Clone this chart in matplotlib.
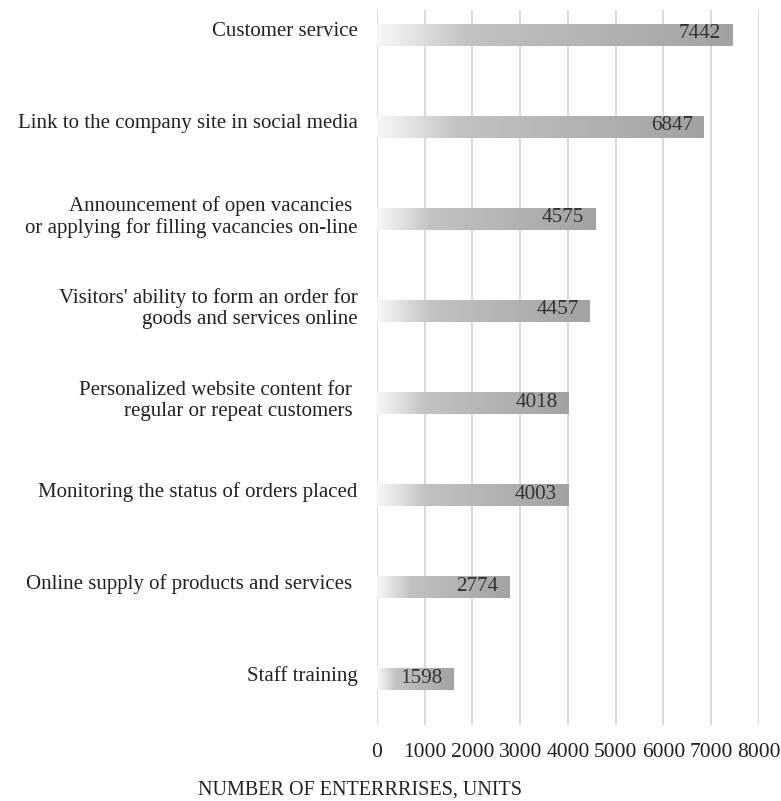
import numpy as np
import matplotlib
matplotlib.use('Agg')
import matplotlib.pyplot as plt
import matplotlib.transforms as mtransforms
from matplotlib.colors import LinearSegmentedColormap

plt.rcParams['font.family'] = ['Liberation Serif', 'DejaVu Serif']

# data (bottom to top)
categories = [
    'Staff training',
    'Online supply of products and services ',
    'Monitoring the status of orders placed',
    'Personalized website content for \nregular or repeat customers ',
    "Visitors' ability to form an order for\ngoods and services online",
    'Announcement of open vacancies \nor applying for filling vacancies on-line',
    'Link to the company site in social media',
    'Customer service',
]
values = [1598, 2774, 4003, 4018, 4457, 4575, 6847, 7442]
x_ticks = [0, 1000, 2000, 3000, 4000, 5000, 6000, 7000, 8000]

fig = plt.figure(figsize=(7.81, 8.01), dpi=100)
ax = fig.add_axes([0.4827, 0.0949, 0.4891, 0.8926])

y = np.arange(len(categories))
bar_h = 0.24
bars = ax.barh(y, values, height=bar_h, color='none', zorder=3)

# gradient fill: white on the left, gray towards the end
cmap = LinearSegmentedColormap.from_list(
    'fade', [(0.0, '#f7f7f7'), (0.1, '#e4e4e4'), (0.25, '#c2c2c2'),
             (0.6, '#b4b4b4'), (1.0, '#a2a2a2')])
grad = np.linspace(0, 1, 256).reshape(1, -1)
for rect, v, yi in zip(bars, values, y):
    im = ax.imshow(grad, cmap=cmap, aspect='auto', interpolation='bilinear',
                   extent=(0, v, yi - bar_h / 2, yi + bar_h / 2), zorder=3)
    im.set_clip_path(rect)
    ax.text(v - 230, yi + 0.01, str(v), ha='right', va='center',
            fontsize=15.2, color='#333333', zorder=4)

ax.set_xlim(0, 8000)
ax.set_ylim(-0.5, len(categories) - 1 + 0.27)
ax.set_xticks(x_ticks)
ax.set_xticklabels([str(t) for t in x_ticks], fontsize=15.5, color='#222222')
ax.set_yticks(y)
ax.set_yticklabels(categories, fontsize=15, color='#222222', ha='right')
ax.tick_params(axis='both', length=0)
ax.tick_params(axis='x', pad=13)
ax.tick_params(axis='y', pad=14)

# labels sit a little above the bar centre
offset = mtransforms.ScaledTranslation(0, 4 / 72, fig.dpi_scale_trans)
for lab in ax.get_yticklabels():
    lab.set_transform(lab.get_transform() + offset)
    lab.set_linespacing(1.15)

ax.grid(axis='x', color='#d9d9d9', linewidth=1.4, zorder=0)
ax.set_axisbelow(True)
for s in ax.spines.values():
    s.set_visible(False)

fig.text(360 / 781, 1 - 790 / 801, 'NUMBER OF ENTERRRISES, UNITS',
         ha='center', va='center', fontsize=14.5, color='#222222')

fig.savefig('out.png', dpi=100, facecolor='white')
